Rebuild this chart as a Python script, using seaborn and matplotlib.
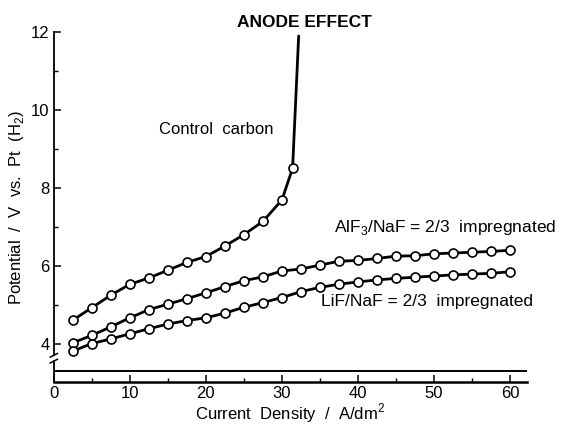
import numpy as np
import pandas as pd
import matplotlib
matplotlib.use("Agg")
import matplotlib.pyplot as plt
import seaborn as sns

#--------------------------------Data----------------------------#
current = [2.5, 5, 7.5, 10, 12.5, 15, 17.5, 20, 22.5, 25, 27.5, 30,
           32.5, 35, 37.5, 40, 42.5, 45, 47.5, 50, 52.5, 55, 57.5, 60]

control_x = [2.5, 5, 7.5, 10, 12.5, 15, 17.5, 20, 22.5, 25, 27.5, 30, 31.4]
control_y = [4.62, 4.94, 5.26, 5.54, 5.70, 5.90, 6.10, 6.25, 6.52, 6.81, 7.15, 7.70, 8.51]
# anode effect: curve shoots up past the top of the scale
anode_x = [32.2]
anode_y = [11.9]

alf3_y = [4.04, 4.23, 4.45, 4.68, 4.89, 5.03, 5.17, 5.32, 5.48, 5.63, 5.73, 5.88,
          5.93, 6.03, 6.13, 6.15, 6.20, 6.26, 6.27, 6.32, 6.34, 6.36, 6.38, 6.41]
lif_y = [3.83, 4.02, 4.14, 4.27, 4.40, 4.52, 4.61, 4.68, 4.80, 4.95, 5.07, 5.20,
         5.35, 5.46, 5.54, 5.60, 5.65, 5.69, 5.72, 5.75, 5.78, 5.80, 5.82, 5.86]

x_ticks = [0, 10, 20, 30, 40, 50, 60]
y_ticks = [4, 6, 8, 10, 12]

#--------------------------------Style----------------------------#
sns.set_style("ticks", {'axes.edgecolor': 'black', 'text.color': 'black',
                        'axes.labelcolor': 'black', 'xtick.color': 'black',
                        'ytick.color': 'black'})
plt.rcParams['font.family'] = ['Liberation Sans', 'DejaVu Sans']
plt.rcParams['mathtext.fontset'] = 'custom'
plt.rcParams['mathtext.rm'] = 'Liberation Sans'

fig = plt.figure(figsize=(5.67, 4.28), dpi=100)
ax = fig.add_axes([0.095, 0.107, 0.834, 0.818])

line_kw = dict(color='black', linewidth=2.0, sort=False, estimator=None)
mark_kw = dict(color='white', edgecolor='black', s=42, linewidth=1.2, zorder=5)

# control carbon
sns.lineplot(x=control_x + anode_x, y=control_y + anode_y, ax=ax, **line_kw)
sns.scatterplot(x=control_x, y=control_y, ax=ax, **mark_kw)

# AlF3/NaF impregnated
sns.lineplot(x=current, y=alf3_y, ax=ax, **line_kw)
sns.scatterplot(x=current, y=alf3_y, ax=ax, **mark_kw)

# LiF/NaF impregnated
sns.lineplot(x=current, y=lif_y, ax=ax, **line_kw)
sns.scatterplot(x=current, y=lif_y, ax=ax, **mark_kw)

#--------------------------------Axes----------------------------#
ax.set_xlim(0, 62.2)
ax.set_ylim(3.03, 12)
sns.despine(ax=ax)
ax.spines['left'].set_bounds(3.72, 12)
ax.spines['left'].set_linewidth(1.3)
ax.spines['bottom'].set_linewidth(1.8)

ax.set_xticks(x_ticks)
ax.set_xticks([5, 15, 25, 35, 45, 55], minor=True)
ax.set_yticks(y_ticks)
ax.set_yticks([5, 7, 9, 11], minor=True)
ax.tick_params(which='major', direction='in', length=5, width=1.1, labelsize=12, pad=3)
ax.tick_params(which='minor', direction='in', length=3, width=1.0)

# broken y axis: lower stub, break marks and the double base line
ax.plot([0, 0], [3.03, 3.565], color='black', lw=1.3, clip_on=False)
ax.plot([-0.5, 0.5], [3.67, 3.77], color='black', lw=1.1, clip_on=False)
ax.plot([-0.5, 0.5], [3.52, 3.62], color='black', lw=1.1, clip_on=False)
ax.axhline(3.32, color='black', lw=1.4)

ax.set_xlabel("Current  Density  /  A/dm$^2$", fontsize=12, labelpad=0)
ax.set_ylabel("Potential  /  V  vs.  Pt  (H$_2$)", fontsize=12, labelpad=4)

ax.text(32.9, 12.05, "ANODE EFFECT", fontsize=12.5, fontweight='bold', ha='center', va='bottom')
ax.text(21.4, 9.5, "Control  carbon", fontsize=12, ha='center', va='center')
ax.text(51.4, 6.99, "AlF$_3$/NaF = 2/3  impregnated", fontsize=12.5, ha='center', va='center', clip_on=False)
ax.text(49.1, 5.1, "LiF/NaF = 2/3  impregnated", fontsize=12.5, ha='center', va='center', clip_on=False)

fig.savefig("out.png", dpi=100)
